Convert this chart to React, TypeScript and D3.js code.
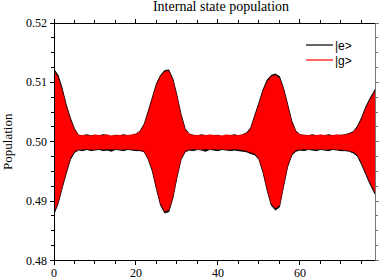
import * as d3 from 'd3'

// time samples
const times = [
  0, 1, 2, 3, 4, 5, 6, 7, 8, 9, 10, 11, 12, 13, 14, 15, 16, 17, 18, 19,
  20, 21, 22, 23, 24, 25, 26, 27, 28, 29, 30, 31, 32, 33, 34, 35, 36, 37, 38, 39,
  40, 41, 42, 43, 44, 45, 46, 47, 48, 49, 50, 51, 52, 53, 54, 55, 56, 57, 58, 59,
  60, 61, 62, 63, 64, 65, 66, 67, 68, 69, 70, 71, 72, 73, 74, 75, 76, 77, 78, 78.3,
]

// |e> population: upper / lower envelope of the fast oscillation
const eHigh = [
  0.5122, 0.5112, 0.509, 0.5062, 0.504, 0.5022, 0.5011, 0.501, 0.5012, 0.501,
  0.5011, 0.501, 0.5012, 0.5011, 0.5009, 0.5011, 0.501, 0.5012, 0.501, 0.5011,
  0.5013, 0.5018, 0.503, 0.5052, 0.5075, 0.5098, 0.5112, 0.512, 0.5121, 0.5106,
  0.5078, 0.5046, 0.5022, 0.5013, 0.5011, 0.501, 0.5012, 0.501, 0.5011, 0.501,
  0.5011, 0.5009, 0.5011, 0.501, 0.5012, 0.501, 0.5012, 0.5015, 0.5024, 0.5045,
  0.5066, 0.5088, 0.5104, 0.5112, 0.5114, 0.511, 0.509, 0.5063, 0.5035, 0.5018,
  0.5012, 0.5011, 0.501, 0.5012, 0.501, 0.5011, 0.501, 0.5012, 0.501, 0.5011,
  0.5011, 0.5012, 0.5014, 0.5017, 0.5026, 0.504, 0.5058, 0.5072, 0.5084, 0.5088,
]
const eLow = [
  0.4878, 0.4896, 0.4922, 0.4947, 0.497, 0.4982, 0.4986, 0.4985, 0.4987, 0.4985,
  0.4986, 0.4987, 0.4985, 0.4986, 0.4984, 0.4987, 0.4986, 0.4985, 0.4987, 0.4986,
  0.4985, 0.4985, 0.4983, 0.497, 0.495, 0.492, 0.4893, 0.488, 0.4882, 0.4905,
  0.494, 0.497, 0.4983, 0.4986, 0.4985, 0.4987, 0.4986, 0.4984, 0.4987, 0.4986,
  0.4985, 0.4987, 0.4986, 0.4985, 0.4986, 0.4985, 0.4984, 0.4983, 0.498, 0.4978,
  0.497, 0.4948, 0.4918, 0.4893, 0.4885, 0.489, 0.4925, 0.4958, 0.4977, 0.4984,
  0.4986, 0.4985, 0.4987, 0.4986, 0.4985, 0.4987, 0.4986, 0.4985, 0.4987, 0.4986,
  0.4985, 0.4985, 0.4984, 0.4981, 0.4976, 0.4962, 0.4946, 0.493, 0.4916, 0.4912,
]

// |g> population: upper / lower envelope
const gHigh = [
  0.5119, 0.5108, 0.5086, 0.5058, 0.5037, 0.502, 0.5011, 0.5011, 0.5011, 0.501,
  0.5012, 0.5011, 0.5011, 0.5012, 0.501, 0.5011, 0.5011, 0.5011, 0.5011, 0.5012,
  0.5013, 0.5017, 0.5028, 0.5049, 0.5072, 0.5095, 0.511, 0.5118, 0.5119, 0.5103,
  0.5075, 0.5043, 0.502, 0.5013, 0.5011, 0.5011, 0.5011, 0.5011, 0.5012, 0.5011,
  0.5011, 0.501, 0.5012, 0.5011, 0.5011, 0.5011, 0.5012, 0.5014, 0.5022, 0.5042,
  0.5063, 0.5085, 0.5101, 0.511, 0.5112, 0.5107, 0.5087, 0.506, 0.5032, 0.5017,
  0.5012, 0.5011, 0.5011, 0.5011, 0.5011, 0.5012, 0.5011, 0.5011, 0.5011, 0.5012,
  0.5011, 0.5012, 0.5013, 0.5016, 0.5024, 0.5037, 0.5055, 0.5069, 0.5081, 0.5085,
]
const gLow = [
  0.4881, 0.4899, 0.4925, 0.495, 0.4973, 0.4984, 0.4987, 0.4987, 0.4988, 0.4987,
  0.4987, 0.4988, 0.4987, 0.4988, 0.4987, 0.4988, 0.4987, 0.4987, 0.4988, 0.4987,
  0.4987, 0.4986, 0.4984, 0.4972, 0.4953, 0.4923, 0.4896, 0.4883, 0.4885, 0.4908,
  0.4943, 0.4972, 0.4985, 0.4987, 0.4988, 0.4987, 0.4987, 0.4988, 0.4987, 0.4988,
  0.4987, 0.4988, 0.4987, 0.4987, 0.4988, 0.4987, 0.4986, 0.4985, 0.4982, 0.498,
  0.4972, 0.4951, 0.4921, 0.4896, 0.4888, 0.4893, 0.4928, 0.4961, 0.4979, 0.4986,
  0.4987, 0.4988, 0.4987, 0.4988, 0.4987, 0.4988, 0.4987, 0.4987, 0.4988, 0.4987,
  0.4987, 0.4986, 0.4985, 0.4983, 0.4978, 0.4965, 0.4949, 0.4933, 0.4919, 0.4915,
]

const xMajor = [0, 20, 40, 60]
const yMajor = [0.48, 0.49, 0.5, 0.51, 0.52]
const yLabels = ['0.48', '0.49', '0.50', '0.51', '0.52']

const series = [
  { name: '|e>', hi: eHigh, lo: eLow, color: '#000000', sw: 0.9 },
  { name: '|g>', hi: gHigh, lo: gLow, color: '#ff0000', sw: 0.4 },
]

const W = 382
const H = 280
const M = { left: 54, right: 375, top: 23, bottom: 260.5 }

export default function App() {
  const x = d3.scaleLinear().domain([0, 78.3]).range([M.left, M.right])
  const y = d3.scaleLinear().domain([0.48, 0.52]).range([M.bottom, M.top])

  const xMinor = d3.range(0, 78.3, 5).filter((v) => v % 20 !== 0)
  const yMinor = d3.range(0.48, 0.52001, 0.0025).filter((v) => !yMajor.some((m) => Math.abs(m - v) < 1e-6))

  const serif = 'Liberation Serif, Times New Roman, serif'
  const sans = 'Liberation Sans, Arial, sans-serif'

  const areaFor = (hi: number[], lo: number[]) =>
    d3
      .area<number>()
      .x((t) => x(t))
      .y0((_, i) => y(lo[i]))
      .y1((_, i) => y(hi[i]))(times) ?? ''

  return (
    <svg width={W} height={H} style={{ position: 'absolute', left: 0, top: 0, background: '#fff' }}>
      <defs>
        <clipPath id="plot-clip">
          <rect x={M.left} y={M.top} width={M.right - M.left} height={M.bottom - M.top} />
        </clipPath>
      </defs>

      <text x={221} y={11} textAnchor="middle" fontFamily={serif} fontSize={14}>
        Internal state population
      </text>

      <g clipPath="url(#plot-clip)">
        {series.map((s) => (
          <path key={s.name} d={areaFor(s.hi, s.lo)} fill={s.color} stroke={s.color} strokeWidth={s.sw} />
        ))}
      </g>

      {/* frame */}
      <g shapeRendering="crispEdges">
        <line x1={M.left} x2={M.right} y1={M.top} y2={M.top} stroke="#000" />
        <line x1={M.left} x2={M.right} y1={M.bottom} y2={M.bottom} stroke="#000" />
        <line x1={M.left} x2={M.left} y1={M.top} y2={M.bottom} stroke="#000" />
        <line x1={M.right} x2={M.right} y1={M.top} y2={M.bottom} stroke="#777" />

        {xMajor.map((v) => (
          <g key={`xm${v}`}>
            <line x1={x(v)} x2={x(v)} y1={M.bottom} y2={M.bottom + 4} stroke="#000" />
            <line x1={x(v)} x2={x(v)} y1={M.top} y2={M.top - 4} stroke="#000" />
          </g>
        ))}
        {xMinor.map((v) => (
          <g key={`xn${v}`}>
            <line x1={x(v)} x2={x(v)} y1={M.bottom} y2={M.bottom + 3} stroke="#000" />
            <line x1={x(v)} x2={x(v)} y1={M.top} y2={M.top - 3} stroke="#000" />
          </g>
        ))}
        {yMajor.map((v) => (
          <g key={`ym${v}`}>
            <line x1={M.left} x2={M.left - 4} y1={y(v)} y2={y(v)} stroke="#000" />
            <line x1={M.right} x2={M.right + 4} y1={y(v)} y2={y(v)} stroke="#777" />
          </g>
        ))}
        {yMinor.map((v, i) => (
          <g key={`yn${i}`}>
            <line x1={M.left} x2={M.left - 3} y1={y(v)} y2={y(v)} stroke="#000" />
            <line x1={M.right} x2={M.right + 3} y1={y(v)} y2={y(v)} stroke="#777" />
          </g>
        ))}
      </g>

      {yMajor.map((v, i) => (
        <text key={`yl${v}`} x={M.left - 7} y={y(v) + 4} textAnchor="end" fontFamily={serif} fontSize={12}>
          {yLabels[i]}
        </text>
      ))}
      {xMajor.map((v) => (
        <text key={`xl${v}`} x={x(v)} y={277} textAnchor="middle" fontFamily={serif} fontSize={12}>
          {v}
        </text>
      ))}

      <text
        transform={`translate(12,${(M.top + M.bottom) / 2}) rotate(-90)`}
        textAnchor="middle"
        fontFamily={serif}
        fontSize={13}
      >
        Population
      </text>

      {series.map((s, i) => (
        <g key={`lg${s.name}`} transform={`translate(0,${45 + i * 15})`}>
          <line x1={306} x2={333} y1={0} y2={0} stroke={s.color} strokeWidth={1.2} />
          <text x={335} y={4.5} fontFamily={sans} fontSize={12}>
            {s.name}
          </text>
        </g>
      ))}
    </svg>
  )
}
